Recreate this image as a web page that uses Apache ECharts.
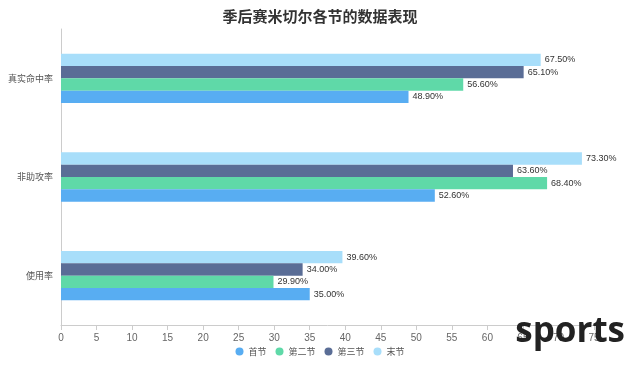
<!DOCTYPE html>
<html><head><meta charset="utf-8">
<script src="https://cdn.jsdelivr.net/npm/echarts@6/dist/echarts.min.js"></script>
<style>html,body{margin:0;padding:0;background:#fff}#c{width:640px;height:366px}</style>
</head><body><div id="c"></div>
<script>
const categories = ['使用率', '非助攻率', '真实命中率'];
const seriesNames = ['首节', '第二节', '第三节', '末节'];
const q1 = [35.0, 52.6, 48.9];
const q2 = [29.9, 68.4, 56.6];
const q3 = [34.0, 63.6, 65.1];
const q4 = [39.6, 73.3, 67.5];
const colors = ['#58adf2', '#5fd9a8', '#5a6d96', '#a8defa'];
const values = [q1, q2, q3, q4];

const series = seriesNames.map((n, i) => ({
  name: n, type: 'bar', data: values[i], barGap: '0%', barCategoryGap: '50%',
  itemStyle: { color: colors[i] },
  label: { show: true, position: 'right', color: '#333', fontSize: 9, distance: 4,
    formatter: p => p.value.toFixed(2) + '%' }
})).reverse();

const chart = echarts.init(document.getElementById('c'));
chart.setOption({
  animation: false,
  title: { text: '季后赛米切尔各节的数据表现', left: 'center', top: 4,
    textStyle: { fontSize: 15, fontWeight: 'bold', color: '#333', fontFamily: 'Noto Sans CJK SC' } },
  legend: { data: seriesNames, bottom: 5, itemWidth: 8, itemHeight: 8, icon: 'circle', itemGap: 9,
    textStyle: { fontSize: 9, color: '#555', fontFamily: 'Noto Sans CJK SC' } },
  grid: { left: 61, right: 46, top: 29, bottom: 41 },
  xAxis: { type: 'value', min: 0, max: 75, interval: 5,
    axisLine: { show: true, lineStyle: { color: '#ccc' } },
    axisTick: { show: true, lineStyle: { color: '#ccc' } },
    splitLine: { show: false },
    axisLabel: { color: '#666', fontSize: 10 } },
  yAxis: { type: 'category', data: categories,
    axisLine: { lineStyle: { color: '#ccc' } },
    axisTick: { lineStyle: { color: '#ccc' } },
    axisLabel: { color: '#555', fontSize: 9, fontFamily: 'Noto Sans CJK SC' } },
  series: series,
  color: colors,
  graphic: [{ type: 'text', right: 15, top: 315, z: 100,
    style: { text: 'sports', fontSize: 35, fontWeight: 'bold', fill: '#222', fontFamily: 'Open Sans' } }]
});
</script></body></html>
